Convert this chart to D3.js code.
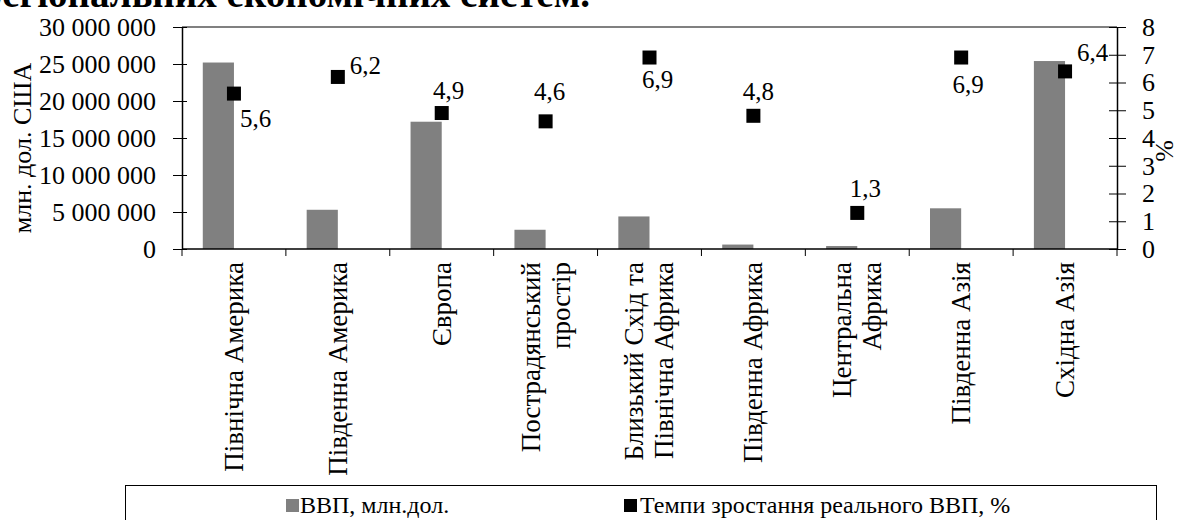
<!DOCTYPE html>
<html>
<head>
<meta charset="utf-8">
<script src="https://cdn.jsdelivr.net/npm/d3@7"></script>
<style>
  html, body { margin: 0; padding: 0; background: #fff; }
  svg { display: block; }
  text { font-family: "Liberation Serif", "Times New Roman", serif; fill: #000; }
</style>
</head>
<body>
<svg id="chart" width="1183" height="520"></svg>
<script>
// ---- data ----
const categories = [
  ["Північна Америка"],
  ["Південна Америка"],
  ["Європа"],
  ["Пострадянський", "простір"],
  ["Близький Схід та", "Північна Африка"],
  ["Південна Африка"],
  ["Центральна", "Африка"],
  ["Південна Азія"],
  ["Східна Азія"]
];
const gdpValues = [25200000, 5300000, 17200000, 2600000, 4400000, 600000, 400000, 5500000, 25400000];
const growthValues = [5.6, 6.2, 4.9, 4.6, 6.9, 4.8, 1.3, 6.9, 6.4];
const leftTicks = [0, 5000000, 10000000, 15000000, 20000000, 25000000, 30000000];
const rightTicks = [0, 1, 2, 3, 4, 5, 6, 7, 8];
const seriesNames = ["ВВП, млн.дол.", "Темпи зростання реального ВВП, %"];
const leftTitle = "млн. дол. США";
const rightTitle = "%";
const headingText = "регіональних економічних систем.";

// ---- layout ----
const plot = { left: 182, right: 1117, top: 27, bottom: 249 };
const svg = d3.select("#chart");
const loc = d3.formatLocale({ decimal: ",", thousands: " ", grouping: [3], currency: ["", ""] });
const fmtBig = loc.format(",d");
const fmtPct = loc.format(".1f");

const keys = categories.map((c, i) => i);
const x = d3.scaleBand().domain(keys).range([plot.left, plot.right]).padding(0);
const yL = d3.scaleLinear().domain([0, 30000000]).range([plot.bottom, plot.top]);
const yR = d3.scaleLinear().domain([0, 8]).range([plot.bottom, plot.top]);
const bw = x.bandwidth();
const barW = bw * 0.3;

// heading (cropped at top of the picture)
svg.append("text")
  .attr("x", 590).attr("y", 7)
  .attr("text-anchor", "end")
  .attr("font-size", 39).attr("font-weight", "bold")
  .text(headingText);

// top border of plot area
svg.append("line")
  .attr("x1", plot.left).attr("x2", plot.right)
  .attr("y1", plot.top).attr("y2", plot.top)
  .attr("stroke", "#808080").attr("stroke-width", 2);

// bars
svg.append("g").selectAll("rect").data(gdpValues).join("rect")
  .attr("x", (d, i) => x(i) + bw / 2 - barW)
  .attr("y", d => yL(d))
  .attr("width", barW)
  .attr("height", d => yL(0) - yL(d))
  .attr("fill", "#808080");

// left axis
const gL = svg.append("g").attr("transform", `translate(${plot.left},0)`)
  .call(d3.axisLeft(yL).tickValues(leftTicks).tickFormat(fmtBig).tickSize(9).tickSizeOuter(0).tickPadding(17));
gL.select(".domain").attr("stroke", "#000").attr("stroke-width", 1.5);
gL.selectAll(".tick line").attr("x1", 5).attr("stroke", "#000");
gL.selectAll(".tick text").attr("font-size", 26).attr("font-family", "Liberation Serif, serif");

// right axis
const gR = svg.append("g").attr("transform", `translate(${plot.right},0)`)
  .call(d3.axisRight(yR).tickValues(rightTicks).tickFormat(d3.format("d")).tickSize(9).tickSizeOuter(0).tickPadding(16));
gR.select(".domain").attr("stroke", "#000").attr("stroke-width", 1.5);
gR.selectAll(".tick line").attr("x1", -8).attr("stroke", "#000");
gR.selectAll(".tick text").attr("font-size", 26).attr("font-family", "Liberation Serif, serif");

// bottom axis
svg.append("line")
  .attr("x1", plot.left).attr("x2", plot.right)
  .attr("y1", plot.bottom).attr("y2", plot.bottom)
  .attr("stroke", "#000").attr("stroke-width", 1.5);
const bounds = d3.range(keys.length + 1).map(i => plot.left + i * bw);
svg.append("g").selectAll("line").data(bounds).join("line")
  .attr("x1", d => d).attr("x2", d => d)
  .attr("y1", plot.bottom).attr("y2", plot.bottom + 7)
  .attr("stroke", "#000").attr("stroke-width", 1);

// category labels (rotated)
const lineH = 30;
const catG = svg.append("g").selectAll("g").data(categories).join("g")
  .attr("transform", (d, i) => `translate(${x(i) + bw / 2},262) rotate(-90)`);
catG.each(function (lines) {
  const n = lines.length;
  d3.select(this).selectAll("text").data(lines).join("text")
    .attr("x", 0)
    .attr("y", (l, j) => (j - (n - 1) / 2) * lineH)
    .attr("dy", "0.33em")
    .attr("text-anchor", "end")
    .attr("font-size", 27)
    .text(l => l);
});

// markers
const ms = 14;
svg.append("g").selectAll("rect").data(growthValues).join("rect")
  .attr("x", (d, i) => x(i) + bw / 2 - ms / 2)
  .attr("y", d => yR(d) - ms / 2)
  .attr("width", ms).attr("height", ms)
  .attr("fill", "#000");

// data label placement relative to marker centre
const labelPlace = [
  { dx: 6, dy: 33, a: "start" },
  { dx: 12, dy: -3, a: "start" },
  { dx: 7, dy: -14, a: "middle" },
  { dx: 4, dy: -21, a: "middle" },
  { dx: 8, dy: 30, a: "middle" },
  { dx: 5, dy: -16, a: "middle" },
  { dx: 8, dy: -16, a: "middle" },
  { dx: 7, dy: 35, a: "middle" },
  { dx: 12, dy: -10, a: "start" }
];
svg.append("g").selectAll("text").data(growthValues).join("text")
  .attr("x", (d, i) => x(i) + bw / 2 + labelPlace[i].dx)
  .attr("y", (d, i) => yR(d) + labelPlace[i].dy)
  .attr("text-anchor", (d, i) => labelPlace[i].a)
  .attr("font-size", 25)
  .text(d => fmtPct(d));

// axis titles
svg.append("text")
  .attr("transform", `translate(31,${(plot.top + plot.bottom) / 2 + 10}) rotate(-90)`)
  .attr("text-anchor", "middle")
  .attr("font-size", 26)
  .text(leftTitle);
svg.append("text")
  .attr("transform", `translate(1173,151) rotate(-90)`)
  .attr("text-anchor", "middle")
  .attr("font-size", 26)
  .text(rightTitle);

// legend
const lg = svg.append("g");
lg.append("rect")
  .attr("x", 125.5).attr("y", 485.5).attr("width", 1031).attr("height", 60)
  .attr("fill", "none").attr("stroke", "#000").attr("stroke-width", 1);
const legendItems = [
  { name: seriesNames[0], color: "#808080", mx: 286, tx: 300 },
  { name: seriesNames[1], color: "#000", mx: 624, tx: 640 }
];
legendItems.forEach(it => {
  lg.append("rect").attr("x", it.mx).attr("y", 499).attr("width", 13).attr("height", 13).attr("fill", it.color);
  lg.append("text").attr("x", it.tx).attr("y", 513).attr("font-size", 24).text(it.name);
});
</script>
</body>
</html>
